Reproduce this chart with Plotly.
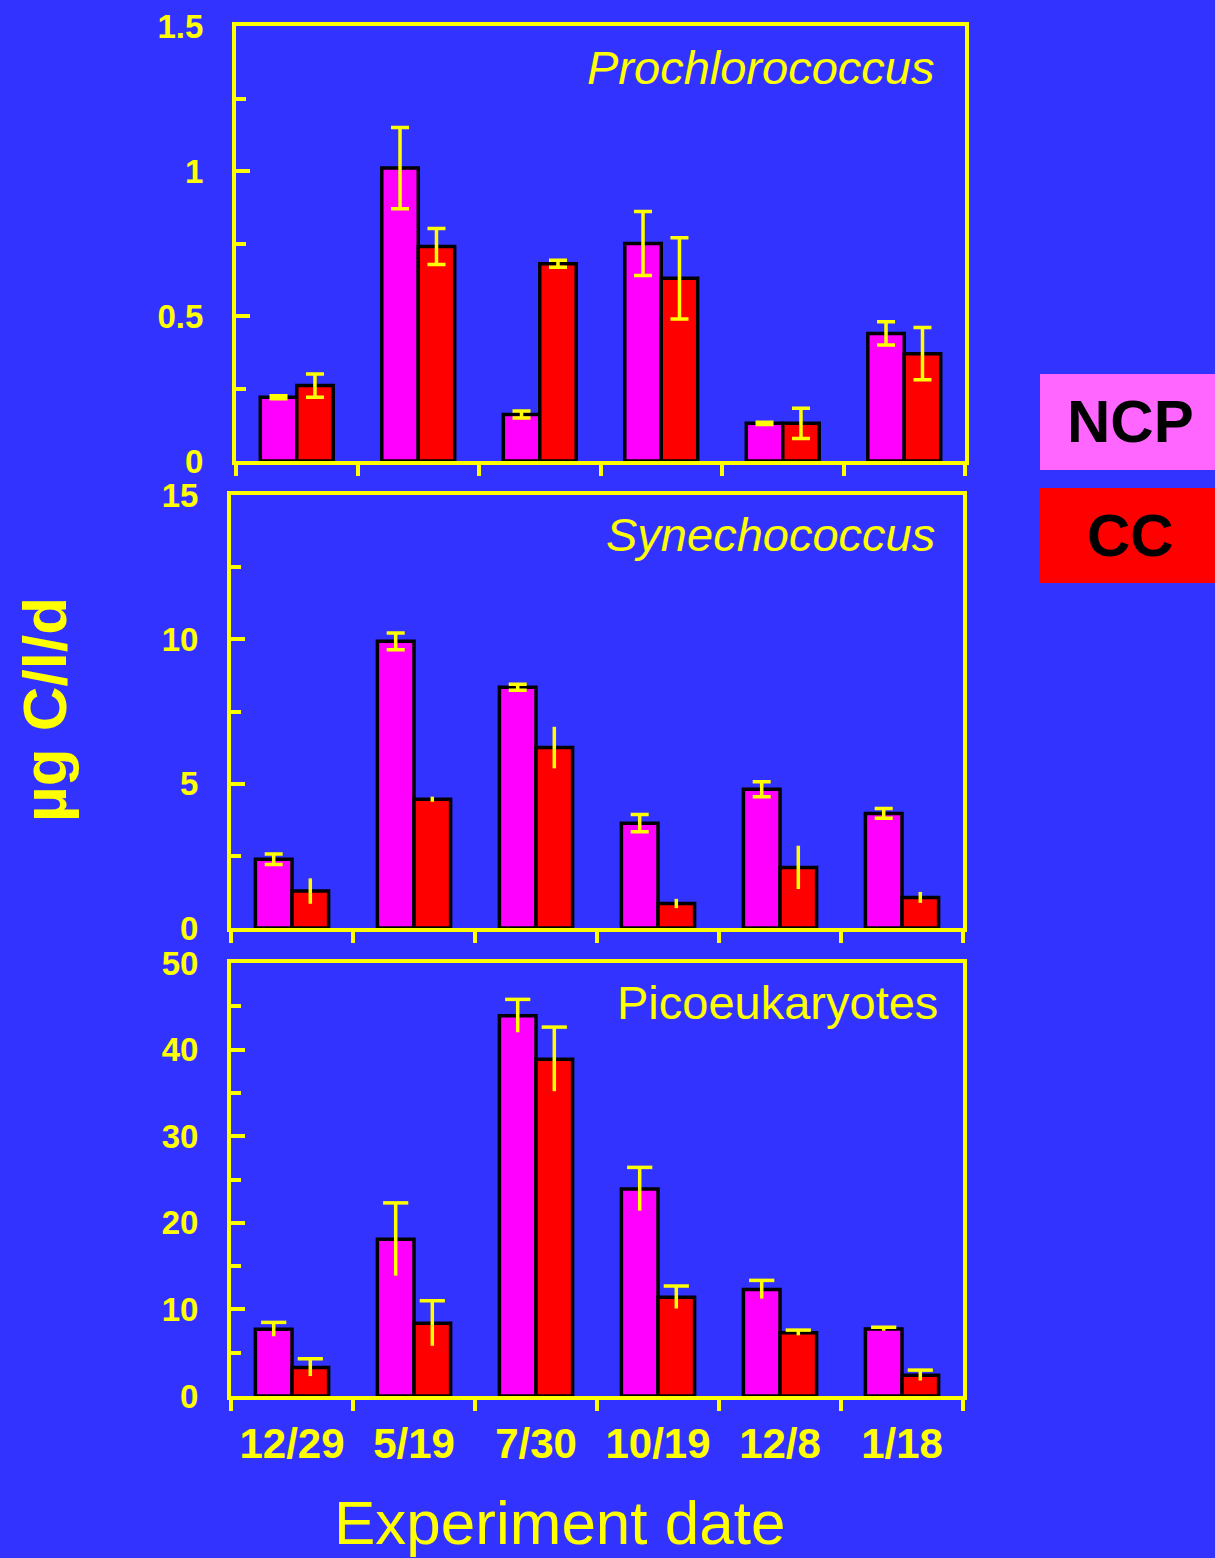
import plotly.graph_objects as go

# ---------------- data ----------------
dates = ["12/29", "5/19", "7/30", "10/19", "12/8", "1/18"]
panel_titles = ["Prochlorococcus", "Synechococcus", "Picoeukaryotes"]

pro_ncp = [0.22, 1.01, 0.16, 0.75, 0.13, 0.44]
pro_ncp_err = [0.005, 0.14, 0.012, 0.11, 0.004, 0.04]
pro_cc = [0.26, 0.74, 0.68, 0.63, 0.13, 0.37]
pro_cc_err = [0.04, 0.062, 0.012, 0.14, 0.052, 0.09]

syn_ncp = [2.38, 9.93, 8.34, 3.63, 4.81, 3.97]
syn_ncp_err = [0.18, 0.29, 0.1, 0.3, 0.26, 0.17]
syn_cc = [1.28, 4.46, 6.25, 0.85, 2.10, 1.06]
syn_cc_err = [0.44, 0.09, 0.72, 0.16, 0.75, 0.19]

pico_ncp = [7.7, 18.1, 43.9, 23.9, 12.3, 7.74]
pico_ncp_err = [0.8, 4.2, 1.9, 2.5, 1.05, 0.2]
pico_cc = [3.3, 8.4, 38.9, 11.4, 7.31, 2.39]
pico_cc_err = [1.0, 2.6, 3.7, 1.3, 0.3, 0.6]

pro_ticks = [0, 0.5, 1, 1.5]
pro_ticktext = ["0", "0.5", "1", "1.5"]
syn_ticks = [0, 5, 10, 15]
pico_ticks = [0, 10, 20, 30, 40, 50]

legend_labels = ["NCP", "CC"]

# ---------------- style ----------------
BG = "#3333FF"
YEL = "#FFFF00"
MAG = "#FF00FF"
RED = "#FF0000"
PINK = "#FF66FF"
FONT = "Liberation Sans, Arial, sans-serif"

W, H = 1215, 1558
OFF = 0.15
BW = 0.30
LW = 3.5

groups = list(range(1, len(dates) + 1))
x_ncp = [g - OFF for g in groups]
x_cc = [g + OFF for g in groups]

fig = go.Figure()

panels = [
    dict(ncp=pro_ncp, ncpe=pro_ncp_err, cc=pro_cc, cce=pro_cc_err,
         ncp_cap=9, cc_cap=9, top_cap=False, rng=[0, 1.5], tv=pro_ticks, tt=pro_ticktext,
         mdt=0.25, xd=[236 / W, 965 / W], yd=[1 - 461 / H, 1 - 26 / H]),
    dict(ncp=syn_ncp, ncpe=syn_ncp_err, cc=syn_cc, cce=syn_cc_err,
         ncp_cap=9, cc_cap=0, top_cap=False, rng=[0, 15], tv=syn_ticks, tt=[str(v) for v in syn_ticks],
         mdt=2.5, xd=[231 / W, 963 / W], yd=[1 - 928 / H, 1 - 495 / H]),
    dict(ncp=pico_ncp, ncpe=pico_ncp_err, cc=pico_cc, cce=pico_cc_err,
         ncp_cap=0, cc_cap=0, top_cap=True, rng=[0, 50], tv=pico_ticks, tt=[str(v) for v in pico_ticks],
         mdt=5, xd=[231 / W, 963 / W], yd=[1 - 1396 / H, 1 - 963 / H]),
]

for i, p in enumerate(panels):
    n = i + 1
    xa = "x" if n == 1 else f"x{n}"
    ya = "y" if n == 1 else f"y{n}"
    for xs, vals, errs, col, cap in [(x_ncp, p["ncp"], p["ncpe"], MAG, p["ncp_cap"]),
                                      (x_cc, p["cc"], p["cce"], RED, p["cc_cap"])]:
        fig.add_trace(go.Bar(
            x=xs, y=vals, width=BW, xaxis=xa, yaxis=ya,
            marker=dict(color=col, line=dict(color="black", width=3.5)),
            error_y=dict(type="data", array=errs, visible=True, color=YEL,
                         thickness=LW, width=cap),
            showlegend=False, hoverinfo="skip"))
        if p["top_cap"]:
            fig.add_trace(go.Scatter(
                x=xs, y=[v + e for v, e in zip(vals, errs)], xaxis=xa, yaxis=ya,
                mode="markers",
                marker=dict(symbol="line-ew", size=18, line=dict(color=YEL, width=LW)),
                showlegend=False, hoverinfo="skip"))

    xkey = "xaxis" if n == 1 else f"xaxis{n}"
    ykey = "yaxis" if n == 1 else f"yaxis{n}"
    fig.layout[xkey] = dict(
        domain=p["xd"], anchor=ya, range=[0.5, len(dates) + 0.5], automargin=False,
        showline=True, linecolor=YEL, linewidth=4, mirror=True,
        showgrid=False, zeroline=False,
        tickmode="array", tickvals=groups, ticktext=dates,
        ticks="", showticklabels=(n == 3),
        tickfont=dict(family=FONT, size=42, color=YEL, weight="bold"),
        ticklabelstandoff=8,
        minor=dict(tickmode="array", tickvals=[g - 0.5 for g in groups] + [len(dates) + 0.5],
                   ticks="outside", ticklen=11, tickwidth=LW, tickcolor=YEL, showgrid=False),
    )
    fig.layout[ykey] = dict(
        domain=p["yd"], anchor=xa, range=p["rng"], automargin=False,
        showline=True, linecolor=YEL, linewidth=4, mirror=True,
        showgrid=False, zeroline=False,
        tickmode="array", tickvals=p["tv"], ticktext=p["tt"],
        ticks="inside", ticklen=14, tickwidth=LW, tickcolor=YEL,
        tickfont=dict(family=FONT, size=33, color=YEL, weight="bold"),
        ticklabelstandoff=22,
        minor=dict(dtick=p["mdt"], tick0=0, ticks="inside", ticklen=10, tickwidth=LW,
                   tickcolor=YEL, showgrid=False),
    )

# panel titles
title_pos = [(936, 68, "italic"), (937, 535, "italic"), (940, 1002, "normal")]
for t, (xr, yc, style) in zip(panel_titles, title_pos):
    fig.add_annotation(text=t, xref="paper", yref="paper", x=xr / W, y=1 - yc / H,
                       xanchor="right", yanchor="middle", showarrow=False,
                       font=dict(family=FONT, size=47, color=YEL, style=style))

# axis titles
fig.add_annotation(text="Experiment date", xref="paper", yref="paper",
                   x=559 / W, y=0, xanchor="center", yanchor="bottom",
                   borderpad=0, showarrow=False,
                   font=dict(family=FONT, size=62, color=YEL))
fig.add_annotation(text="µg C/l/d", xref="paper", yref="paper",
                   x=45 / W, y=1 - 710 / H, xanchor="center", yanchor="middle",
                   textangle=-90, showarrow=False,
                   font=dict(family=FONT, size=62, color=YEL, weight="bold"))

# legend boxes
leg_boxes = [(374, 470, PINK), (488, 583, RED)]
for lab, (y0, y1, col) in zip(legend_labels, leg_boxes):
    fig.add_shape(type="rect", xref="paper", yref="paper",
                  x0=1040 / W, x1=1.0, y0=1 - y1 / H, y1=1 - y0 / H,
                  fillcolor=col, line=dict(width=0), layer="below")
    fig.add_annotation(text=lab, xref="paper", yref="paper",
                       x=1130 / W, y=1 - (y0 + y1) / 2 / H,
                       xanchor="center", yanchor="middle", showarrow=False,
                       font=dict(family=FONT, size=60, color="black", weight="bold"))

fig.update_layout(
    width=W, height=H, margin=dict(l=0, r=0, t=0, b=0, autoexpand=False),
    paper_bgcolor=BG, plot_bgcolor=BG, barmode="overlay",
    showlegend=False,
)

fig.write_html("out.html", config={"displayModeBar": False})

# remove default page margins so the figure fills the window exactly
with open("out.html", "r", encoding="utf-8") as f:
    html = f.read()
html = html.replace("<head>", "<head><style>html,body{margin:0;padding:0;overflow:hidden;background:#3333FF;}</style>", 1)
with open("out.html", "w", encoding="utf-8") as f:
    f.write(html)
